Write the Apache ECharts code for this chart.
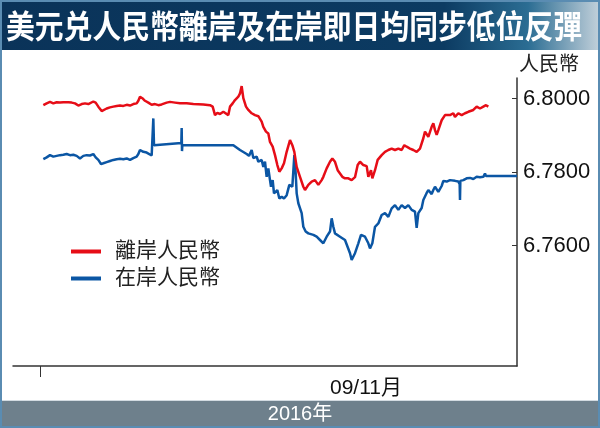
<!DOCTYPE html>
<html>
<head>
<meta charset="utf-8">
<script src="https://cdn.jsdelivr.net/npm/echarts@6/dist/echarts.min.js"></script>
<style>
  html, body { margin: 0; padding: 0; background: #fff; }
  #chart { width: 600px; height: 428px; }
</style>
</head>
<body>
<div id="chart"></div>
<script>
  // 時間軸：分鐘（自圖左端起）
  const offshoreTimes = [
    91,101,111,121,131,141,151,166,176,186,
    196,206,211,216,226,231,241,248,256,266,
    271,281,291,301,311,321,331,341,351,361,
    371,376,381,388,396,406,416,426,436,446,
    461,471,486,501,521,541,571,591,599,606,
    613,621,631,636,646,651,659,666,676,681,
    686,691,699,706,716,726,736,746,751,759,
    766,771,779,786,793,799,806,813,821,831,
    838,844,851,861,871,876,886,896,906,916,
    926,931,941,951,958,966,974,981,988,996,
    1006,1016,1026,1034,1041,1051,1061,1066,1074,1078,
    1086,1094,1106,1116,1126,1136,1146,1156,1166,1174,
    1181,1191,1201,1211,1221,1231,1236,1241,1246,1256,
    1261,1266,1271,1276,1286,1296,1301,1311,1321,1326,
    1336,1346,1356,1366,1371,1381,1391,1401,1411,1419,
    1426
  ];
  const offshoreRates = [
    6.7982,6.7987,6.7991,6.7987,6.7990,6.7989,6.7990,6.7990,6.7989,6.7987,
    6.7981,6.7985,6.7982,6.7987,6.7985,6.7990,6.7992,6.7989,6.7978,6.7966,
    6.7969,6.7973,6.7976,6.7978,6.7980,6.7981,6.7980,6.7983,6.7981,6.7985,
    6.7987,6.7994,6.8005,6.8001,6.7994,6.7989,6.7983,6.7985,6.7982,6.7984,
    6.7989,6.7991,6.7989,6.7987,6.7987,6.7985,6.7984,6.7982,6.7978,6.7955,
    6.7961,6.7958,6.7964,6.7960,6.7955,6.7978,6.7987,6.7996,6.8005,6.8014,
    6.8034,6.8001,6.7978,6.7969,6.7960,6.7955,6.7952,6.7937,6.7923,6.7910,
    6.7905,6.7882,6.7869,6.7846,6.7819,6.7801,6.7810,6.7824,6.7855,6.7887,
    6.7873,6.7855,6.7814,6.7787,6.7760,6.7751,6.7765,6.7774,6.7778,6.7765,
    6.7778,6.7787,6.7810,6.7828,6.7837,6.7828,6.7805,6.7796,6.7787,6.7783,
    6.7783,6.7778,6.7786,6.7819,6.7828,6.7819,6.7816,6.7787,6.7805,6.7783,
    6.7805,6.7833,6.7846,6.7855,6.7860,6.7864,6.7860,6.7864,6.7860,6.7873,
    6.7869,6.7864,6.7860,6.7855,6.7864,6.7892,6.7910,6.7905,6.7896,6.7923,
    6.7933,6.7914,6.7901,6.7914,6.7941,6.7955,6.7960,6.7955,6.7960,6.7950,
    6.7960,6.7955,6.7960,6.7964,6.7960,6.7969,6.7978,6.7973,6.7978,6.7982,
    6.7978
  ];
  const onshoreTimes = [
    91,101,111,121,131,141,151,161,171,181,
    191,201,211,216,221,231,241,248,256,264,
    271,281,291,301,311,321,331,341,351,361,
    371,376,381,391,401,406,416,420,421,423,
    505,506,507,508,661,681,701,708,716,721,
    731,736,746,751,756,761,766,771,774,779,
    783,789,793,799,806,813,821,829,834,838,
    844,848,851,856,861,866,871,878,886,891,
    901,911,921,931,941,951,956,961,966,981,
    996,1011,1016,1026,1036,1044,1056,1066,1071,1078,
    1086,1096,1106,1116,1126,1136,1146,1156,1166,1176,
    1186,1196,1206,1211,1216,1226,1231,1241,1246,1256,
    1261,1266,1276,1286,1291,1301,1311,1326,1336,1340,
    1341,1342,1351,1361,1371,1381,1391,1401,1411,1416,
    1419,1431,1512
  ];
  const onshoreRates = [
    6.7835,6.7840,6.7846,6.7842,6.7844,6.7846,6.7847,6.7849,6.7846,6.7847,
    6.7844,6.7837,6.7844,6.7840,6.7846,6.7845,6.7849,6.7840,6.7833,6.7822,
    6.7824,6.7827,6.7830,6.7833,6.7835,6.7836,6.7835,6.7837,6.7833,6.7838,
    6.7842,6.7849,6.7860,6.7855,6.7853,6.7849,6.7845,6.7845,6.7946,6.7873,
    6.7879,6.7920,6.7857,6.7873,6.7873,6.7860,6.7849,6.7844,6.7860,6.7838,
    6.7842,6.7828,6.7833,6.7814,6.7828,6.7787,6.7810,6.7778,6.7760,6.7778,
    6.7742,6.7737,6.7751,6.7728,6.7733,6.7728,6.7737,6.7765,6.7769,6.7760,
    6.7846,6.7797,6.7742,6.7715,6.7710,6.7688,6.7651,6.7638,6.7633,6.7638,
    6.7629,6.7624,6.7615,6.7606,6.7624,6.7638,6.7674,6.7651,6.7633,6.7624,
    6.7615,6.7579,6.7561,6.7579,6.7606,6.7629,6.7624,6.7606,6.7592,6.7606,
    6.7651,6.7660,6.7683,6.7688,6.7678,6.7701,6.7710,6.7697,6.7710,6.7702,
    6.7710,6.7697,6.7692,6.7648,6.7688,6.7702,6.7724,6.7743,6.7751,6.7740,
    6.7751,6.7760,6.7746,6.7762,6.7776,6.7774,6.7778,6.7776,6.7774,6.7767,
    6.7724,6.7776,6.7778,6.7783,6.7784,6.7781,6.7787,6.7786,6.7787,6.7796,
    6.7789,6.7789,6.7789
  ];
  const yTicks = [6.76, 6.78, 6.80];
  const xTickAt = [81];
  const xLabelAt = [1059];
  const xLabelText = '09/11月';

  const seriesNames = ['離岸人民幣', '在岸人民幣'];
  const seriesColors = ['#e60d17', '#0b56a4'];

  const zip = (xs, ys) => xs.map((x, i) => [x, ys[i]]);

  const fontCJK = '"Liberation Sans", "Noto Sans CJK TC", sans-serif';

  let chart = echarts.init(document.getElementById('chart'));
  let option = {
    animation: false,
    backgroundColor: '#fff',
    grid: {
      left: 13, right: 83, top: 78, bottom: 62,
      outerBoundsMode: 'none'
    },
    legend: {
      orient: 'vertical',
      left: 66,
      top: 236,
      itemWidth: 30,
      itemHeight: 4,
      itemGap: 6,
      icon: 'rect',
      data: seriesNames,
      textStyle: {
        fontSize: 21,
        color: '#222',
        fontFamily: fontCJK,
        padding: [0, 0, 0, 9]
      }
    },
    xAxis: {
      type: 'value',
      min: 0,
      max: 1512,
      axisLine: { show: true, onZero: false, lineStyle: { color: '#333', width: 1.5 } },
      axisTick: {
        show: true,
        customValues: xTickAt,
        length: 11,
        lineStyle: { color: '#333', width: 1 }
      },
      axisLabel: {
        customValues: xLabelAt,
        formatter: function () { return xLabelText; },
        fontSize: 21,
        color: '#111',
        margin: 12,
        fontFamily: fontCJK
      },
      splitLine: { show: false }
    },
    yAxis: {
      type: 'value',
      position: 'right',
      min: 6.7272,
      max: 6.8056,
      name: '人民幣',
      nameLocation: 'end',
      nameGap: 3,
      nameTextStyle: {
        fontSize: 20,
        color: '#222',
        align: 'left',
        padding: [0, 0, 0, 2],
        fontFamily: fontCJK
      },
      axisLine: { show: true, onZero: false, lineStyle: { color: '#333', width: 1.5 } },
      axisTick: {
        show: true,
        inside: true,
        length: 5,
        customValues: yTicks,
        lineStyle: { color: '#333' }
      },
      axisLabel: {
        customValues: yTicks,
        formatter: function (v) { return v.toFixed(4); },
        fontSize: 22,
        color: '#111',
        margin: 6,
        fontFamily: '"Liberation Sans", Arial, sans-serif'
      },
      splitLine: { show: false }
    },
    series: [{
      name: seriesNames[0],
      type: 'line',
      data: zip(offshoreTimes, offshoreRates),
      showSymbol: false,
      color: seriesColors[0],
      lineStyle: { width: 2.5, color: seriesColors[0] },
      z: 3
    }, {
      name: seriesNames[1],
      type: 'line',
      data: zip(onshoreTimes, onshoreRates),
      showSymbol: false,
      color: seriesColors[1],
      lineStyle: { width: 2.5, color: seriesColors[1] },
      z: 2
    }],
    graphic: [
      // 標題欄
      {
        type: 'rect',
        shape: { x: 0, y: 0, width: 600, height: 50 },
        style: {
          fill: new echarts.graphic.LinearGradient(0, 0, 1, 0, [
            { offset: 0, color: '#0a3359' },
            { offset: 0.74, color: '#0c3b62' },
            { offset: 0.88, color: '#2b6d93' },
            { offset: 1, color: '#c3d1db' }
          ])
        },
        z: 0
      },
      {
        type: 'text',
        x: 6,
        y: 26,
        scaleX: 0.9,
        style: {
          text: '美元兑人民幣離岸及在岸即日均同步低位反彈',
          fill: '#fff',
          fontSize: 32,
          fontWeight: 'bold',
          fontFamily: '"Noto Sans CJK TC", sans-serif',
          textVerticalAlign: 'middle'
        },
        z: 10
      },
      // 底部年份欄
      {
        type: 'rect',
        shape: { x: 0, y: 401, width: 600, height: 27 },
        style: { fill: '#6e808c' },
        z: 0
      },
      {
        type: 'line',
        shape: { x1: 0, y1: 400.5, x2: 600, y2: 400.5 },
        style: { stroke: '#d3dbe1', lineWidth: 1 },
        z: 1
      },
      {
        type: 'text',
        x: 300,
        y: 414,
        style: {
          text: '2016年',
          fill: '#fff',
          fontSize: 20,
          fontFamily: fontCJK,
          textAlign: 'center',
          textVerticalAlign: 'middle'
        },
        z: 10
      },
      // 外框
      {
        type: 'rect',
        shape: { x: 1, y: 1, width: 598, height: 426 },
        style: { fill: 'none', stroke: '#5a8cb2', lineWidth: 2 },
        z: 20
      }
    ]
  };
  chart.setOption(option);
</script>
</body>
</html>
